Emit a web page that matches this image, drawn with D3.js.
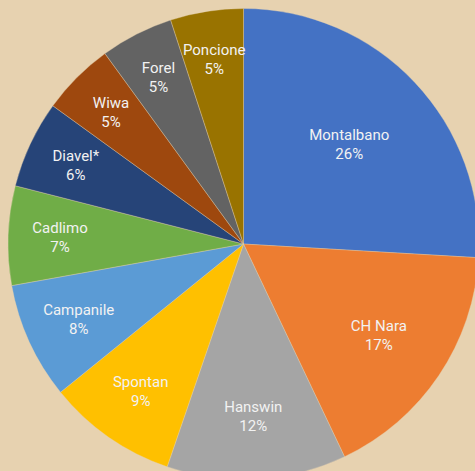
<!DOCTYPE html>
<html><head><meta charset="utf-8">
<script src="https://cdn.jsdelivr.net/npm/d3@7"></script>
<style>html,body{margin:0;padding:0;background:#E7D2B0;overflow:hidden}</style>
</head><body><svg id="c" width="475" height="471"></svg>
<script>
const categories = ["Montalbano","CH Nara","Hanswin","Spontan","Campanile","Cadlimo","Diavel*","Wiwa","Forel","Poncione"];
const values = [25.9, 17.0, 12.3, 8.9, 8.0, 6.8, 6.0, 5.0, 5.0, 5.0];
const pctLabels = ["26%","17%","12%","9%","8%","7%","6%","5%","5%","5%"];
const colors = ["#4472C4","#ED7D31","#A5A5A5","#FFC000","#5B9BD5","#70AD47","#264478","#9E480E","#636363","#997300"];

const svg = d3.select("#c");
const cx = 243.5, cy = 244, R = 235.5;
const g = svg.append("g").attr("transform", `translate(${cx},${cy})`);
const data = categories.map((c,i)=>({name:c, value:values[i], pct:pctLabels[i], color:colors[i]}));
const pie = d3.pie().sort(null).value(d=>d.value);
const arcs = pie(data);
const arc = d3.arc().innerRadius(0).outerRadius(R);
g.selectAll("path").data(arcs).join("path")
  .attr("d", arc).attr("fill", d=>d.data.color)
  .attr("stroke", "#E7D2B0").attr("stroke-width", 0.6).attr("stroke-opacity",0.6);

const lab = g.selectAll("text").data(arcs).join("text")
  .attr("transform", d=>{
    const f = 0.795 - 0.0085*Math.max(0, d.data.value-5);
    const a = (d.startAngle+d.endAngle)/2;
    return `translate(${Math.sin(a)*R*f},${-Math.cos(a)*R*f})`;
  })
  .attr("text-anchor","middle")
  .attr("fill","#F2F2F2")
  .style("font-family","Roboto, 'Open Sans', sans-serif")
  .style("font-size","15px");
lab.append("tspan").attr("x",0).attr("y",-4).text(d=>d.data.name);
lab.append("tspan").attr("x",0).attr("y",15).text(d=>d.data.pct);
</script></body></html>
